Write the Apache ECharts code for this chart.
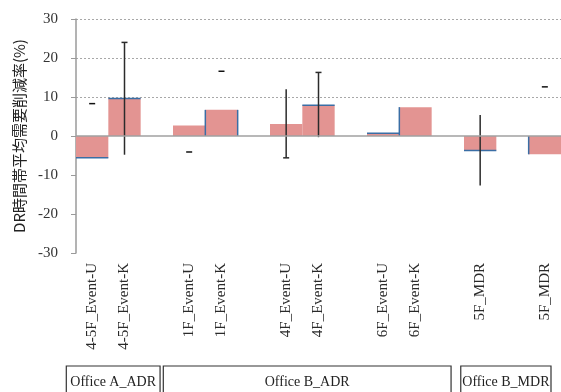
<!DOCTYPE html>
<html>
<head>
<meta charset="utf-8">
<script src="https://cdn.jsdelivr.net/npm/echarts@6/dist/echarts.min.js"></script>
<style>
  html, body { margin: 0; padding: 0; background: #fff; }
  #chart { width: 561px; height: 392px; }
</style>
</head>
<body>
<div id="chart"></div>
<script>
// Category slots; empty strings are spacer slots between floor groups
const categories = ["4-5F_Event-U", "4-5F_Event-K", "", "1F_Event-U", "1F_Event-K", "",
  "4F_Event-U", "4F_Event-K", "", "6F_Event-U", "6F_Event-K", "", "5F_MDR", "", "5F_MDR"];

// Mean demand reduction during DR hours (%)
const reduction = [-5.6, 9.6, null, 2.7, 6.7, null, 3.1, 7.9, null, 0.7, 7.4, null, -3.7, null, -4.7];

// Error range (low / high ends of the whisker)
const errLow  = [null, -4.8, null, null, null, null, -5.6, -0.3, null, null, null, null, -12.7, null, null];
const errHigh = [null, 24.0, null, null, null, null, 12.0, 16.3, null, null, null, null, 5.4, null, null];

// Stand-alone error caps (whisker not drawn)
const capOnly = [8.3, null, null, -4.1, 16.6, null, null, null, null, null, null, null, null, null, 12.6];

// Group labels spanning category index ranges
const groupNames = ["Office A_ADR", "Office B_ADR", "Office B_MDR"];
const groupStart = [0, 3, 12];
const groupEnd   = [1, 10, 14];

const yTicks = [-30, -20, -10, 0, 10, 20, 30];

// Drawing details per bar: which edge carries the blue outline, and which whisker ends get caps
const edgeSide = ['end', 'end', null, null, 'sides', null, null, 'end', null, 'end', 'left', null, 'end', null, 'left'];
const capTop    = [false, true, false, false, false, false, false, true, false, false, false, false, false, false, false];
const capBottom = [false, false, false, false, false, false, true, false, false, false, false, false, false, false, false];

const serif = '"Liberation Serif", "DejaVu Serif", serif';
const BAR_COLOR = '#E39492';
const EDGE_COLOR = '#3A6EA5';
const WHISKER = '#2b2b2b';

const chart = echarts.init(document.getElementById('chart'), null, { renderer: 'canvas' });

const option = {
  animation: false,
  backgroundColor: '#fff',
  grid: { left: 76, right: 0, top: 19, bottom: 139, containLabel: false },
  xAxis: {
    type: 'category',
    data: categories,
    axisLine: { show: false },
    axisTick: { show: false },
    splitLine: { show: false },
    axisLabel: {
      interval: 0, rotate: 90, margin: 10,
      fontFamily: serif, fontSize: 15, color: '#2a2a2a'
    }
  },
  yAxis: {
    type: 'value',
    min: yTicks[0], max: yTicks[yTicks.length - 1], interval: 10,
    name: 'DR時間帯平均需要削減率(%)',
    nameLocation: 'middle', nameRotate: 90, nameGap: 47,
    nameTextStyle: { fontFamily: '"Noto Sans CJK JP", sans-serif', fontSize: 15, color: '#222' },
    axisLine: { show: true, lineStyle: { color: '#9a9a9a', width: 1.5 } },
    axisTick: { show: true, length: 5, lineStyle: { color: '#9a9a9a' } },
    axisLabel: { fontFamily: serif, fontSize: 15, color: '#333', margin: 18 },
    splitLine: {
      show: true,
      lineStyle: {
        // only the positive gridlines are drawn (dotted)
        color: yTicks.map(v => v > 0 ? '#a8a8a8' : 'rgba(0,0,0,0)'),
        type: [2, 2], width: 1
      }
    }
  },
  series: [
    {
      type: 'bar',
      data: reduction,
      barCategoryGap: '0%',
      barGap: '0%',
      itemStyle: { color: BAR_COLOR },
      z: 2,
      markLine: {
        silent: true, symbol: 'none', label: { show: false },
        lineStyle: { color: '#a0a0a0', type: 'solid', width: 1.5 },
        data: [{ yAxis: 0 }]
      }
    },
    {
      // blue outline on selected bar edges
      type: 'custom',
      z: 3,
      data: reduction.map((v, i) => [i, v]),
      renderItem: function (params, api) {
        const i = api.value(0);
        const v = api.value(1);
        const side = edgeSide[i];
        if (v == null || isNaN(v) || !side) return;
        const w = api.size([1, 0])[0];
        const pEnd = api.coord([i, v]);
        const p0 = api.coord([i, 0]);
        const x0 = pEnd[0] - w / 2, x1 = pEnd[0] + w / 2;
        const style = { stroke: EDGE_COLOR, lineWidth: 1.5 };
        const kids = [];
        if (side === 'end') {
          kids.push({ type: 'line', shape: { x1: x0, y1: pEnd[1], x2: x1, y2: pEnd[1] }, style });
        }
        if (side === 'left' || side === 'sides') {
          kids.push({ type: 'line', shape: { x1: x0, y1: p0[1], x2: x0, y2: pEnd[1] }, style });
        }
        if (side === 'sides') {
          kids.push({ type: 'line', shape: { x1: x1, y1: p0[1], x2: x1, y2: pEnd[1] }, style });
        }
        return { type: 'group', children: kids };
      }
    },
    {
      // error whiskers
      type: 'custom',
      z: 4,
      data: errLow.map((lo, i) => [i, lo, errHigh[i]]),
      renderItem: function (params, api) {
        const i = api.value(0);
        const lo = api.value(1), hi = api.value(2);
        if (lo == null || hi == null || isNaN(lo) || isNaN(hi)) return;
        const pLo = api.coord([i, lo]);
        const pHi = api.coord([i, hi]);
        const x = pLo[0];
        const style = { stroke: WHISKER, lineWidth: 1.5 };
        const kids = [{ type: 'line', shape: { x1: x, y1: pLo[1], x2: x, y2: pHi[1] }, style }];
        if (capTop[i]) kids.push({ type: 'line', shape: { x1: x - 3, y1: pHi[1], x2: x + 3, y2: pHi[1] }, style });
        if (capBottom[i]) kids.push({ type: 'line', shape: { x1: x - 3, y1: pLo[1], x2: x + 3, y2: pLo[1] }, style });
        return { type: 'group', children: kids };
      }
    },
    {
      // stand-alone caps
      type: 'custom',
      z: 4,
      data: capOnly.map((v, i) => [i, v]),
      renderItem: function (params, api) {
        const i = api.value(0);
        const v = api.value(1);
        if (v == null || isNaN(v)) return;
        const p = api.coord([i, v]);
        return {
          type: 'line',
          shape: { x1: p[0] - 3, y1: p[1], x2: p[0] + 3, y2: p[1] },
          style: { stroke: '#111', lineWidth: 1.5 }
        };
      }
    }
  ]
};

chart.setOption(option);

// Group boxes under the category labels, placed from the category axis scale
function drawGroups() {
  const slot = chart.convertToPixel({ xAxisIndex: 0 }, 1) - chart.convertToPixel({ xAxisIndex: 0 }, 0);
  const width = chart.getWidth();
  const elements = groupNames.map((name, g) => {
    const xs = chart.convertToPixel({ xAxisIndex: 0 }, groupStart[g]);
    const xe = chart.convertToPixel({ xAxisIndex: 0 }, groupEnd[g]);
    const left = g === groupNames.length - 1 ? xs - slot * 0.6 : xs - slot * 0.8;
    const right = Math.min(xe + slot * 1.1, width - 10);
    const top = 366;
    return {
      type: 'group',
      children: [
        {
          type: 'rect',
          shape: { x: left, y: top, width: right - left, height: 40 },
          style: { fill: 'none', stroke: '#333', lineWidth: 1.2 }
        },
        {
          type: 'text',
          style: {
            text: name, x: (left + right) / 2, y: top + 16,
            align: 'center', verticalAlign: 'middle',
            font: '14px ' + serif, fill: '#222'
          }
        }
      ]
    };
  });
  chart.setOption({ graphic: { elements } });
}
drawGroups();
</script>
</body>
</html>
